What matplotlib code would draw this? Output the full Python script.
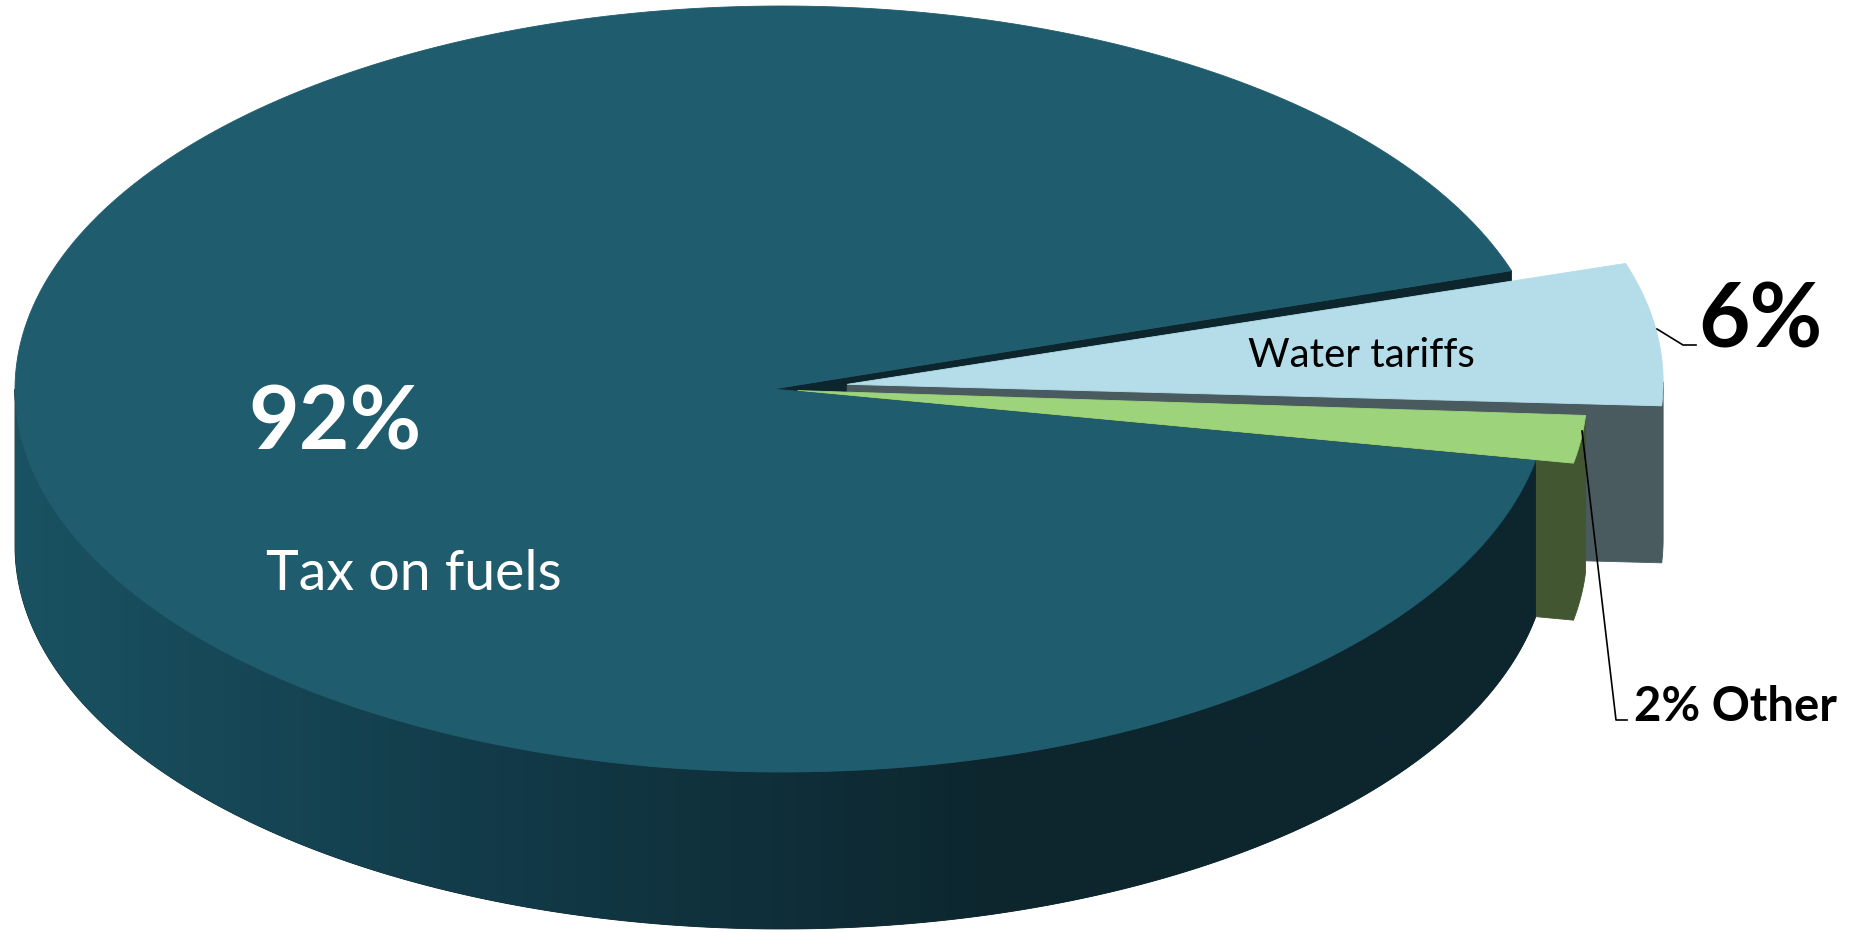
import numpy as np
import matplotlib
matplotlib.use("Agg")
import matplotlib.pyplot as plt
from matplotlib.patches import Polygon
from matplotlib.colors import LinearSegmentedColormap

# data
labels = ["Tax on fuels", "Water tariffs", "Other"]
shares = [92, 6, 2]

# style
top_colors = ["#1f5c6e", "#b4dde9", "#9dd37b"]
side_colors = ["#0d262e", "#4a5b60", "#425632"]
explode = [0.0, 0.15, 0.05]

W, H = 1858, 933
cx, cy = 782, 389      # centre of the top ellipse (pixels)
rx, ry = 767, 383
vx, vy = 773, 389      # apex of the slices (perspective shifts it a bit)
depth = 157
theta0 = -10.8         # first slice starts here, slices go clockwise

plt.rcParams["font.family"] = ["Lato", "DejaVu Sans"]

fig = plt.figure(figsize=(W / 100, H / 100), dpi=100)
ax = fig.add_axes([0, 0, 1, 1])
ax.set_xlim(0, W)
ax.set_ylim(H, 0)
ax.axis("off")

# angles of every slice
bounds = []
acc = 0
for s in shares:
    hi = theta0 - acc * 3.6
    lo = hi - s * 3.6
    bounds.append((lo, hi))
    acc += s


def offset(i):
    lo, hi = bounds[i]
    m = np.radians((lo + hi) / 2)
    return explode[i] * rx * np.cos(m), -explode[i] * ry * np.sin(m)


def rim(i, t):
    dx, dy = offset(i)
    t = np.radians(t)
    return np.column_stack([cx + rx * np.cos(t) + dx, cy - ry * np.sin(t) + dy])


def apex(i):
    dx, dy = offset(i)
    return np.array([[vx + 0.65 * dx, vy + 0.65 * dy]])


def poly(pts, color, z, **kw):
    p = Polygon(pts, closed=True, facecolor=color, edgecolor=color, lw=0.6, zorder=z, **kw)
    ax.add_patch(p)
    return p


def top(i, z):
    lo, hi = bounds[i]
    pts = np.vstack([apex(i), rim(i, np.linspace(lo, hi, 300))])
    return poly(pts, top_colors[i], z)


def radial_wall(i, z):
    lo, _ = bounds[i]
    a = apex(i)
    r = rim(i, [lo])
    pts = np.vstack([a, r, r + [0, depth], a + [0, depth]])
    return poly(pts, side_colors[i], z)


def front_wall(i, z, color=None):
    lo, hi = bounds[i]
    # visible part of the rim lies in the front half (180..360 deg)
    lo_n = lo % 360
    hi_n = lo_n + (hi - lo)
    a = max(lo_n, 180)
    b = min(hi_n, 360)
    if b <= a:
        return None
    t = np.linspace(a, b, 300)
    up = rim(i, t)
    pts = np.vstack([up, (up + [0, depth])[::-1]])
    return poly(pts, color or side_colors[i], z)


# back to front
radial_wall(0, 1)
radial_wall(1, 2)
front_wall(1, 2)
top(1, 3)
radial_wall(2, 4)
front_wall(2, 4)
top(2, 5)
side = front_wall(0, 6)
grad = LinearSegmentedColormap.from_list("side", ["#1a5363", "#123a48", "#0d262e"])
gx = np.linspace(0, 1, 600)
gimg = np.clip(gx / 0.64, 0, 1)[None, :]
im = ax.imshow(gimg, cmap=grad, aspect="auto", extent=[0, 1560, 940, 370], zorder=6.5,
               interpolation="bilinear")
im.set_clip_path(side)
top(0, 7)

# labels
ax.text(335, 450, f"{shares[0]}%", color="white", fontsize=63, fontweight="bold",
        ha="center", va="baseline", zorder=10)
ax.text(414, 590, labels[0], color="white", fontsize=40, ha="center", va="baseline", zorder=10)
ax.text(1361, 367, labels[1], color="black", fontsize=29, ha="center", va="baseline", zorder=10)
ax.text(1760, 347, f"{shares[1]}%", color="black", fontsize=64, fontweight="bold",
        ha="center", va="baseline", zorder=10)
ax.text(1634, 721, f"{shares[2]}% {labels[2]}", color="black", fontsize=34, fontweight="bold",
        ha="left", va="baseline", zorder=10)

# leader lines
ax.plot([1657, 1683, 1696], [329, 345, 345], color="black", lw=1.2, zorder=9)
ax.plot([1582, 1616, 1627], [431, 720, 720], color="black", lw=1.2, zorder=9)

fig.savefig("out.png", dpi=100)
